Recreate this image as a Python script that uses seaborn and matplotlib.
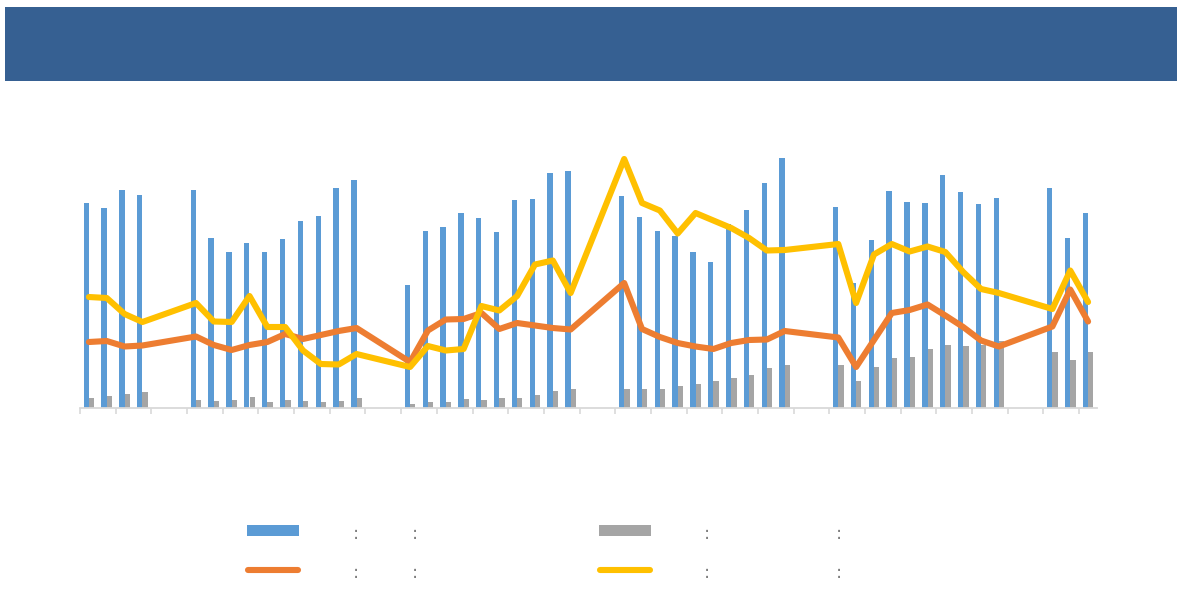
import numpy as np
import pandas as pd
import matplotlib
matplotlib.use("Agg")
import matplotlib.pyplot as plt
import seaborn as sns
from matplotlib.patches import Rectangle
from matplotlib.lines import Line2D

# ---------------- data ----------------
categories = [f"P{i+1:02d}" for i in range(57)]

bar_blue = [205, 200, 218, 213.5, None, None,
            218.5, 170.5, 156.5, 165.5, 156.5, 169, 187.5, 192, 220.5, 228.5, None, None,
            123, 177.5, 181.5, 195, 190.5, 176, 208, 209.5, 235, 237, None, None,
            212.5, 191.5, 177, 172, 156.5, 146, 184.5, 198, 225.5, 250.5, None, None,
            201.5, 125, 168, 217.5, 206.5, 205, 233, 216, 204.5, 210, None, None,
            220, 170.5, 195]

bar_gray = [10.5, 12, 14, 16, None, None,
            8.5, 7, 8.5, 11.5, 6, 8, 7, 6.5, 7, 10.5, None, None,
            4.5, 6, 6.5, 9, 8.5, 10, 10.5, 13, 17, 19.5, None, None,
            19, 19, 19.5, 22, 24, 27.5, 30, 33.5, 40, 43.5, None, None,
            43, 27.5, 41.5, 50, 51.5, 59.5, 63.5, 62.5, 63.5, 67.5, None, None,
            56, 48.5, 56.5]

line_orange = [66, 67, 61.5, 62.5, None, None,
               71.5, 63, 58, 63, 66, 74, 69, 73, 77, 80, None, None,
               46, 77.5, 88.5, 89, 95, 79, 85, 82.5, 80, 78.5, None, None,
               125, 79, 71, 65, 61.5, 59, 65, 68, 68.5, 77, None, None,
               70.5, 41, 68, 95, 98, 103.5, 92.5, 81, 67.5, 61.5, None, None,
               81.5, 118.5, 86.5]

line_yellow = [111, 110, 94, 86, None, None,
               105, 86.5, 86, 112, 81, 81, 57.5, 44, 43.5, 54, None, None,
               41, 62, 57.5, 59, 102, 97.5, 112, 143.5, 147.5, 115, None, None,
               249, 205, 197.5, 174.5, 195, 187.5, 180, 170, 157.5, 158, None, None,
               164, 105, 153.5, 164, 156.5, 161.5, 156, 136, 119, 115, None, None,
               99, 137.5, 106]

series_names = ["S1", "S2", "S3", "S4"]

# ---------------- style ----------------
C_BLUE = "#5B9BD5"
C_GRAY = "#A5A5A5"
C_ORANGE = "#ED7D31"
C_YELLOW = "#FFC000"
C_HEADER = "#366092"
C_AXIS = "#D9D9D9"

sns.set_theme(style="white")
plt.rcParams["font.family"] = ["DejaVu Sans"]

W, H = 1178, 592
fig = plt.figure(figsize=(W / 100, H / 100), dpi=100)

def fx(px):
    return px / W

def fy(py):
    return 1 - py / H

# header band
fig.patches.append(Rectangle((fx(5), fy(81.5)), fx(1172), (81.5 - 7) / H,
                             transform=fig.transFigure, facecolor=C_HEADER,
                             edgecolor="none", zorder=0))

# plot area
left, right, bottom_px, top_px = 80, 1097, 408, 130
ax = fig.add_axes([fx(left), fy(bottom_px), fx(right - left), (bottom_px - top_px) / H])

df_bars = pd.DataFrame({
    "cat": categories * 2,
    "series": [series_names[0]] * len(categories) + [series_names[1]] * len(categories),
    "value": pd.to_numeric(pd.Series(bar_blue + bar_gray), errors="coerce"),
})
sns.barplot(data=df_bars, x="cat", y="value", hue="series", order=categories,
            hue_order=series_names[:2], palette=[C_BLUE, C_GRAY], width=0.6,
            dodge=True, saturation=1, errorbar=None, legend=False, ax=ax,
            linewidth=0)

idx = np.arange(len(categories))
for vals, col, name in [(line_orange, C_ORANGE, series_names[2]),
                        (line_yellow, C_YELLOW, series_names[3])]:
    s = pd.Series(vals, dtype=float)
    m = s.notna().values
    sns.lineplot(x=idx[m], y=s.values[m], color=col, linewidth=4.4, ax=ax,
                 solid_capstyle="round", solid_joinstyle="round", legend=False)

ax.set_xlim(-0.5, len(categories) - 0.5)
ax.set_ylim(0, bottom_px - top_px)
ax.set_xlabel("")
ax.set_ylabel("")
ax.set_yticks([])
ax.set_xticks(np.arange(-0.5, len(categories) - 0.5, 2))
ax.set_xticklabels([])
ax.tick_params(axis="x", direction="out", length=4, width=1.2, color=C_AXIS, bottom=True)
for sp in ["top", "right", "left"]:
    ax.spines[sp].set_visible(False)
ax.spines["bottom"].set_color(C_AXIS)
ax.spines["bottom"].set_linewidth(1.3)
ax.patch.set_alpha(0)

# ---------------- legend ----------------
fig.patches.append(Rectangle((fx(247), fy(536)), fx(52), 11 / H, transform=fig.transFigure,
                             facecolor=C_BLUE, edgecolor="none"))
fig.patches.append(Rectangle((fx(599), fy(536)), fx(52), 11 / H, transform=fig.transFigure,
                             facecolor=C_GRAY, edgecolor="none"))
for x0, x1, col in [(248, 298, C_ORANGE), (600, 650, C_YELLOW)]:
    fig.lines.append(Line2D([fx(x0), fx(x1)], [fy(570), fy(570)], transform=fig.transFigure,
                            color=col, linewidth=4.4, solid_capstyle="round"))
for yy in [534, 573]:
    for xx in [355.7, 415.3, 707.3, 839.3]:
        fig.text(fx(xx), fy(yy), ":", ha="center", va="center", fontsize=13,
                 color="#7F7F7F")

fig.savefig("out.png", dpi=100)
